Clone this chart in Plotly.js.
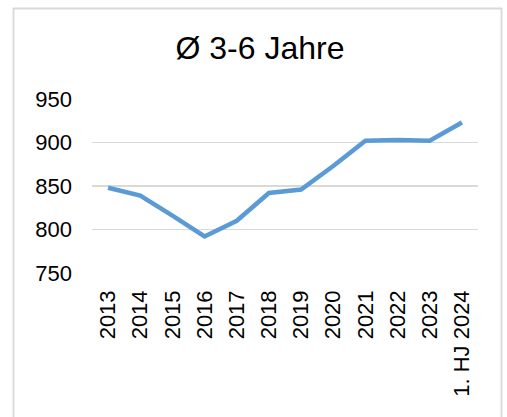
<!DOCTYPE html>
<html>
<head>
<meta charset="utf-8">
<script src="https://cdn.plot.ly/plotly-3.0.1.min.js"></script>
<style>
  html, body { margin: 0; padding: 0; background: #ffffff; }
  #chart { width: 507px; height: 417px; }
</style>
</head>
<body>
<div id="chart"></div>
<script>
const categories = ["2013", "2014", "2015", "2016", "2017", "2018", "2019", "2020", "2021", "2022", "2023", "1. HJ 2024"];
const values = [848, 839, 816, 792, 810, 842, 846, 873, 902, 903, 902, 923];
const yTicks = [750, 800, 850, 900, 950];
const chartTitle = "Ø 3-6 Jahre";

const trace = {
  type: "scatter",
  mode: "lines",
  x: categories,
  y: values,
  line: { color: "#5B9BD5", width: 4.5 },
  hoverinfo: "skip"
};

const layout = {
  width: 507,
  height: 417,
  margin: { l: 92, r: 29, t: 99, b: 144 },
  paper_bgcolor: "#ffffff",
  plot_bgcolor: "#ffffff",
  showlegend: false,
  font: { family: "Liberation Sans, Arial, sans-serif", color: "#000000", size: 22 },
  title: {
    text: chartTitle,
    font: { family: "Liberation Sans, Arial, sans-serif", size: 32, color: "#000000" },
    xref: "container", x: 260 / 507, xanchor: "center",
    yref: "container", y: 1 - 48 / 417, yanchor: "middle"
  },
  xaxis: {
    type: "category",
    range: [-0.5, categories.length - 0.5],
    tickangle: -90,
    showgrid: false,
    zeroline: false,
    showline: false,
    ticks: "",
    ticklabelstandoff: 12,
    tickfont: { size: 22 },
    fixedrange: true
  },
  yaxis: {
    range: [750, 950],
    tickvals: yTicks,
    ticktext: yTicks.map(String),
    showgrid: true,
    gridcolor: "#d9d9d9",
    gridwidth: 1.8,
    zeroline: false,
    showline: false,
    ticks: "",
    ticklabelstandoff: 19,
    tickfont: { size: 22 },
    fixedrange: true
  },
  shapes: [{
    type: "rect",
    xref: "paper", yref: "paper",
    x0: (13.5 - 92) / 386, x1: (501.5 - 92) / 386,
    y0: (273 - 425) / 174, y1: (273 - 8.5) / 174,
    line: { color: "#d9d9d9", width: 1.8 },
    fillcolor: "rgba(0,0,0,0)",
    layer: "below"
  }]
};

Plotly.newPlot("chart", [trace], layout, { staticPlot: true, displayModeBar: false });
</script>
</body>
</html>
